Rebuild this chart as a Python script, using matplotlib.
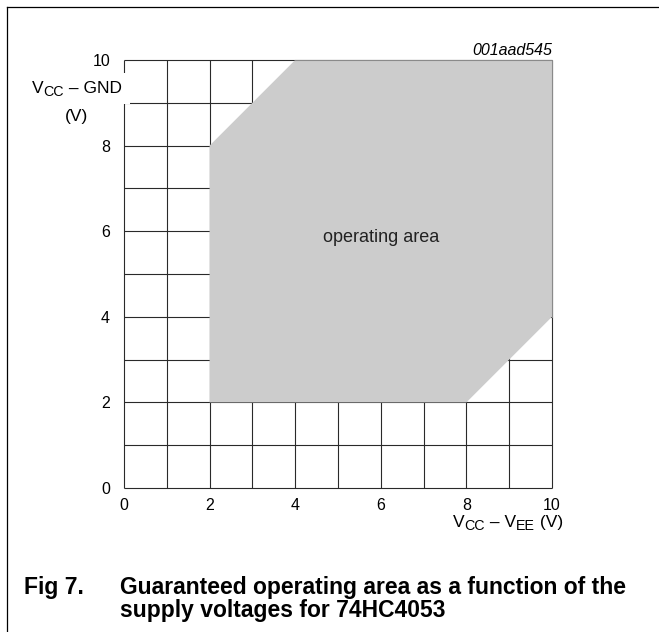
import matplotlib
matplotlib.use("Agg")
import matplotlib.pyplot as plt
from matplotlib.lines import Line2D

plt.rcParams['font.family'] = ['Liberation Sans', 'DejaVu Sans']

# --- data ---
# operating area corners (V_CC - V_EE, V_CC - GND)
area_x = [2, 8, 10, 10, 4, 2]
area_y = [2, 2, 4, 10, 10, 8]
grid_vals = list(range(0, 11))
tick_vals = [0, 2, 4, 6, 8, 10]
tick_labels = ["0", "2", "4", "6", "8", "10"]

W, H = 659, 632
fig = plt.figure(figsize=(W / 100, H / 100), dpi=100)
ax = fig.add_axes([124 / W, 1 - 488 / H, 428 / W, 428 / H])

line_col = '#2a2a2a'
# grid (incl. border) under the shaded area
ax.vlines(grid_vals, 0, 10, color=line_col, lw=0.8, zorder=1, clip_on=False)
ax.hlines(grid_vals, 0, 10, color=line_col, lw=0.8, zorder=1, clip_on=False)
ax.fill(area_x, area_y, color='#cccccc', lw=0, zorder=2, clip_on=False)
# frame edge over the shaded part
ax.plot(area_x[2:5], area_y[2:5], color='#8a8a8a', lw=0.8, zorder=3, clip_on=False)

ax.set_xlim(0, 10)
ax.set_ylim(0, 10)
for s in ax.spines.values():
    s.set_visible(False)
ax.set_xticks(tick_vals)
ax.set_xticklabels(tick_labels)
ax.set_yticks(tick_vals)
ax.set_yticklabels(tick_labels)
ax.tick_params(axis='both', length=0, labelsize=11.5)
ax.tick_params(axis='x', pad=7.5)
ax.tick_params(axis='y', pad=10)

ax.text(6.0, 5.85, "operating area", ha='center', va='center', fontsize=13,
        color='#222222', zorder=4)
ax.text(10.0, 10.23, "001aad545", ha='right', va='center', fontsize=11.5,
        style='italic', clip_on=False)


def chain(x0, y0, pieces, size, last_box=False):
    # pieces: (text, relative size, baseline shift in px); positions in figure pixels
    prev = None
    for i, (s, rel, dy) in enumerate(pieces):
        kw = dict(fontsize=size * rel, ha='left', va='baseline', zorder=5,
                  annotation_clip=False)
        if last_box and i == len(pieces) - 1:
            # white patch that breaks the axis line behind the title
            kw['bbox'] = dict(boxstyle='square,pad=0.45', fc='white', ec='none')
            kw['zorder'] = 4.5
        if prev is None:
            prev = ax.annotate(s, xy=(x0, H - y0 - dy), xycoords='figure pixels', **kw)
        else:
            prev = ax.annotate(s, xy=(1, H - y0 - dy), xycoords=(prev, 'figure pixels'), **kw)
    return prev


# y axis title
chain(32, 93, [("V", 1, 0), ("CC", 0.82, 3), (" – GND", 1, 0)], 12.5, last_box=True)
ax.text(-1.1, 8.67, "(V)", ha='center', va='center', fontsize=12.5, clip_on=False)
# x axis title
chain(453, 527, [("V", 1, 0), ("CC", 0.82, 3), (" – V", 1, 0), ("EE", 0.82, 3),
                 (" (V)", 1, 0)], 12.5)

# caption
fig.text(24 / W, 1 - 594 / H, "Fig 7.", fontsize=16.5, fontweight='bold', va='baseline')
fig.text(120 / W, 1 - 594 / H, "Guaranteed operating area as a function of the",
         fontsize=16.5, fontweight='bold', va='baseline')
fig.text(120 / W, 1 - 617 / H, "supply voltages for 74HC4053",
         fontsize=16.5, fontweight='bold', va='baseline')

# page frame lines (top and left)
fig.add_artist(Line2D([7 / W, 1], [1 - 7 / H, 1 - 7 / H], color='black', lw=0.9))
fig.add_artist(Line2D([7 / W, 7 / W], [0, 1 - 7 / H], color='black', lw=0.9))

fig.savefig("out.png", dpi=100)
